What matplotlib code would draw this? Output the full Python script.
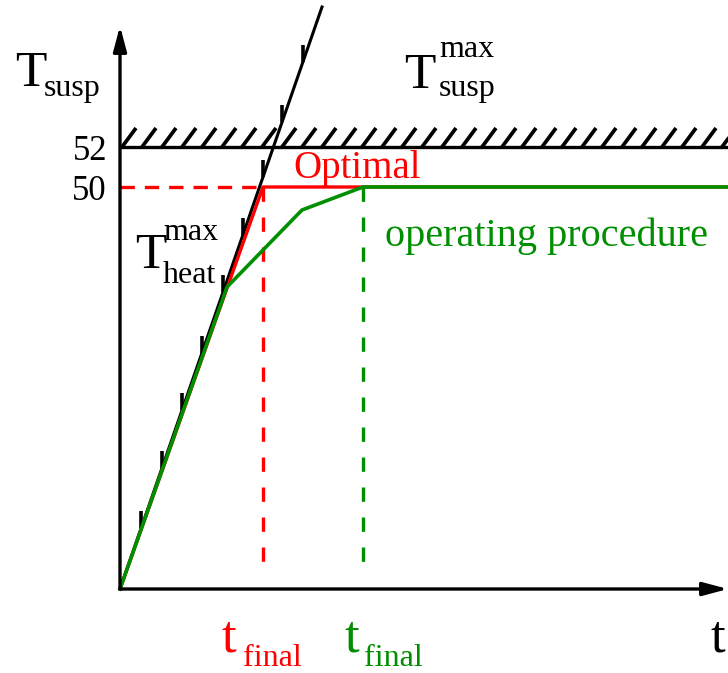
import matplotlib.pyplot as plt
import numpy as np

# schematic units: 1 unit ~ 100 px, origin of the diagram at (0, 0)
heat_t = [0.0, 2.02]           # T_heat^max line
heat_T = [0.0, 5.82]
heat_marks_t = [0.21, 0.42, 0.62, 0.82, 1.03, 1.23, 1.43, 1.62, 1.83]

opt_t = [0.0, 1.43, 6.08]      # optimal profile
opt_T = [0.0, 4.02, 4.02]

op_t = [0.0, 1.07, 1.82, 2.43, 6.08]   # operating procedure
op_T = [0.0, 3.02, 3.79, 4.02, 4.02]

limit_T = 4.42                 # T_susp^max
ytick_pos = [4.42, 4.02]
ytick_labels = ["52", "50"]

RED = "#ff0000"
GREEN = "#008f00"
FONT = "Liberation Serif"

fig = plt.figure(figsize=(7.28, 6.73), dpi=100)
ax = fig.add_axes([0, 0, 1, 1])
ax.set_xlim(-1.2, 6.08)
ax.set_ylim(-0.84, 5.89)
ax.axis("off")

# axes with arrows
ax.annotate("", xy=(6.08, 0), xytext=(0, 0),
            arrowprops=dict(arrowstyle="-|>,head_length=0.75,head_width=0.2",
                            lw=2.4, color="k", mutation_scale=20, shrinkA=0, shrinkB=0))
ax.annotate("", xy=(0, 5.63), xytext=(0, 0),
            arrowprops=dict(arrowstyle="-|>,head_length=0.75,head_width=0.2",
                            lw=2.4, color="k", mutation_scale=20, shrinkA=0, shrinkB=0))

# upper limit with hatching
ax.plot([0, 6.08], [limit_T, limit_T], color="k", lw=2.4, solid_capstyle="butt")
for x0 in np.arange(0.02, 6.08, 0.20):
    ax.plot([x0, x0 + 0.14], [limit_T, limit_T + 0.19], color="k", lw=2.7,
            solid_capstyle="butt")

# heating limit line with its marks
ax.plot(heat_t, heat_T, color="k", lw=2.2)
slope = heat_T[1] / heat_t[1]
for tm in heat_marks_t:
    ax.plot([tm, tm], [slope * tm, slope * tm + 0.17], color="k", lw=2.6,
            solid_capstyle="butt")

# dashed guides
ax.plot([0, opt_t[1]], [opt_T[1], opt_T[1]], color=RED, lw=2.4, dashes=(4.3, 3.0))
ax.plot([opt_t[1], opt_t[1]], [opt_T[1], 0.13], color=RED, lw=2.4, dashes=(4.3, 4.7))
ax.plot([op_t[3], op_t[3]], [op_T[3], 0.13], color=GREEN, lw=2.4, dashes=(4.3, 4.7))

# profiles
ax.plot(opt_t, opt_T, color=RED, lw=2.4)
ax.plot(op_t, op_T, color=GREEN, lw=2.6)

# tick labels
for yp, lab in zip(ytick_pos, ytick_labels):
    ax.text(-0.13, yp, lab, ha="right", va="center_baseline", fontsize=25, family=FONT)

# texts
def sym(x, y, main, sub=None, sup=None, dx=0.37, color="k", big=37, small=23,
        sub_dy=-0.08, sup_dy=0.31):
    ax.text(x, y, main, fontsize=big, family=FONT, color=color, va="baseline")
    if sub:
        ax.text(x + dx, y + sub_dy, sub, fontsize=small, family=FONT, color=color,
                va="baseline")
    if sup:
        ax.text(x + dx, y + sup_dy, sup, fontsize=small, family=FONT, color=color,
                va="baseline")

sym(-1.05, 5.03, "T", sub="susp", dx=0.29, sub_dy=-0.10)
sym(2.84, 5.01, "T", sub="susp", sup="max", dx=0.35, sub_dy=-0.08, sup_dy=0.31)
sym(0.15, 3.21, "T", sub="heat", sup="max", dx=0.28, big=37, sub_dy=-0.15, sup_dy=0.28)

ax.text(1.73, 4.11, "Optimal", fontsize=28, family=FONT, color=RED, va="baseline")
ax.text(2.65, 3.43, "operating procedure", fontsize=29, family=FONT, color=GREEN,
        va="baseline")

sym(1.02, -0.62, "t", sub="final", dx=0.21, color=RED, big=38, sub_dy=-0.15)
sym(2.25, -0.62, "t", sub="final", dx=0.19, color=GREEN, big=38, sub_dy=-0.15)
ax.text(5.91, -0.62, "t", fontsize=38, family=FONT, color="k", va="baseline")

fig.savefig("out.png", dpi=100)
plt.close(fig)
